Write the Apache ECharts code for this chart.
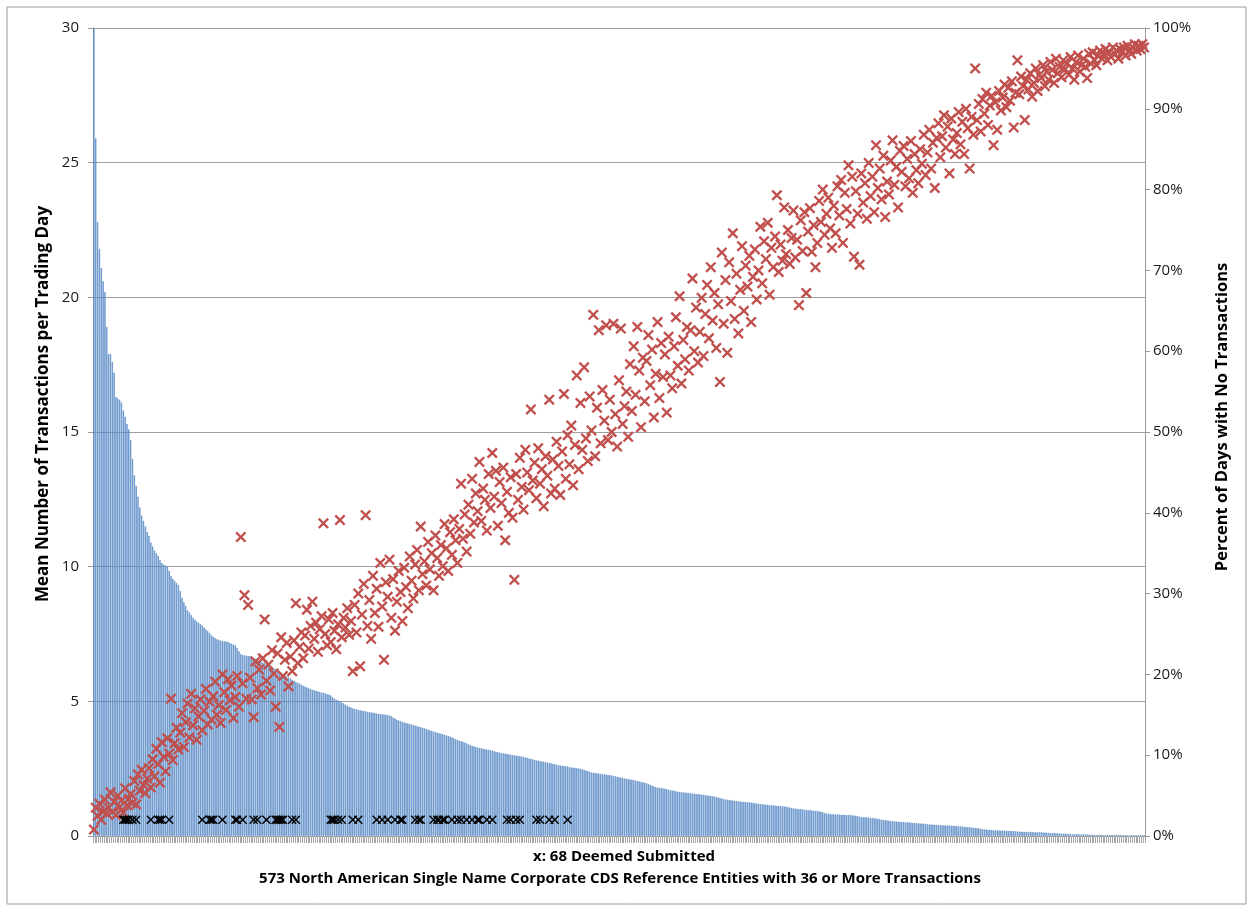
<!DOCTYPE html>
<html>
<head>
<meta charset="utf-8">
<title>CDS reference entities</title>
<script src="https://cdn.jsdelivr.net/npm/echarts@6/dist/echarts.min.js"></script>
<style>
  html, body { margin: 0; padding: 0; background: #fff; }
  #main { width: 1250px; height: 907px; }
</style>
</head>
<body>
<div id="main"></div>
<script>
// mean number of transactions per trading day, one bar per reference entity (sorted)
var meanTrades = [
  30, 25.9, 22.8, 21.8, 21.1, 20.6, 20.2, 18.9, 17.9, 17.9,
  17.6, 17.2, 16.3, 16.25, 16.2, 16.1, 15.8, 15.57, 15.3, 15.1,
  14.7, 14.0, 13.4, 13.0, 12.6, 12.2, 11.9, 11.7, 11.5, 11.3,
  11.15, 10.9, 10.75, 10.6, 10.5, 10.4, 10.25, 10.13, 10.08, 10.04,
  10.0, 9.85, 9.65, 9.55, 9.47, 9.4, 9.32, 9.1, 8.85, 8.68,
  8.55, 8.38, 8.3, 8.2, 8.1, 8.03, 7.97, 7.92, 7.87, 7.82,
  7.74, 7.67, 7.61, 7.53, 7.46, 7.4, 7.35, 7.31, 7.28, 7.26,
  7.24, 7.23, 7.22, 7.21, 7.18, 7.14, 7.11, 7.08, 6.98, 6.86,
  6.76, 6.72, 6.71, 6.7, 6.69, 6.68, 6.66, 6.62, 6.58, 6.54,
  6.5, 6.47, 6.44, 6.42, 6.38, 6.34, 6.3, 6.27, 6.23, 6.2,
  6.17, 6.12, 6.06, 6.0, 5.96, 5.93, 5.89, 5.85, 5.8, 5.76,
  5.72, 5.69, 5.66, 5.62, 5.58, 5.55, 5.52, 5.49, 5.46, 5.43,
  5.41, 5.39, 5.37, 5.35, 5.33, 5.32, 5.29, 5.27, 5.25, 5.22,
  5.15, 5.1, 5.06, 5.03, 5.0, 4.96, 4.92, 4.88, 4.84, 4.8,
  4.77, 4.74, 4.72, 4.71, 4.69, 4.67, 4.65, 4.64, 4.63, 4.61,
  4.6, 4.59, 4.58, 4.56, 4.55, 4.54, 4.53, 4.52, 4.51, 4.5,
  4.49, 4.48, 4.45, 4.4, 4.36, 4.32, 4.29, 4.27, 4.24, 4.22,
  4.2, 4.18, 4.16, 4.14, 4.12, 4.1, 4.08, 4.06, 4.04, 4.02,
  4.0, 3.97, 3.95, 3.93, 3.9, 3.88, 3.86, 3.84, 3.82, 3.8,
  3.78, 3.76, 3.74, 3.72, 3.69, 3.66, 3.63, 3.6, 3.57, 3.54,
  3.52, 3.5, 3.47, 3.44, 3.41, 3.38, 3.35, 3.33, 3.31, 3.29,
  3.27, 3.26, 3.24, 3.23, 3.21, 3.2, 3.19, 3.17, 3.15, 3.13,
  3.11, 3.1, 3.08, 3.07, 3.06, 3.05, 3.03, 3.02, 3.01, 3.0,
  2.99, 2.97, 2.96, 2.95, 2.94, 2.92, 2.9, 2.88, 2.86, 2.85,
  2.83, 2.81, 2.8, 2.78, 2.77, 2.76, 2.74, 2.73, 2.71, 2.7,
  2.68, 2.67, 2.65, 2.63, 2.62, 2.61, 2.6, 2.59, 2.58, 2.56,
  2.55, 2.54, 2.53, 2.52, 2.51, 2.5, 2.48, 2.45, 2.43, 2.41,
  2.39, 2.36, 2.35, 2.34, 2.33, 2.32, 2.31, 2.3, 2.29, 2.28,
  2.27, 2.26, 2.25, 2.23, 2.22, 2.2, 2.19, 2.17, 2.16, 2.14,
  2.13, 2.12, 2.1, 2.09, 2.08, 2.06, 2.05, 2.03, 2.01, 2.0,
  1.98, 1.96, 1.93, 1.9, 1.87, 1.84, 1.82, 1.8, 1.79, 1.78,
  1.77, 1.76, 1.74, 1.72, 1.71, 1.69, 1.68, 1.66, 1.65, 1.64,
  1.63, 1.62, 1.61, 1.61, 1.6, 1.59, 1.58, 1.57, 1.56, 1.56,
  1.55, 1.54, 1.53, 1.52, 1.51, 1.5, 1.49, 1.48, 1.47, 1.45,
  1.43, 1.41, 1.39, 1.37, 1.36, 1.35, 1.34, 1.33, 1.32, 1.31,
  1.3, 1.29, 1.28, 1.27, 1.27, 1.26, 1.26, 1.25, 1.24, 1.23,
  1.22, 1.21, 1.2, 1.19, 1.18, 1.17, 1.17, 1.16, 1.15, 1.14,
  1.14, 1.13, 1.12, 1.12, 1.11, 1.11, 1.1, 1.09, 1.07, 1.06,
  1.04, 1.03, 1.02, 1.01, 1.0, 1.0, 0.99, 0.98, 0.97, 0.96,
  0.96, 0.95, 0.94, 0.93, 0.93, 0.92, 0.9, 0.88, 0.86, 0.84,
  0.83, 0.82, 0.81, 0.81, 0.8, 0.8, 0.8, 0.79, 0.79, 0.79,
  0.78, 0.78, 0.78, 0.77, 0.76, 0.75, 0.74, 0.72, 0.71, 0.7,
  0.7, 0.69, 0.69, 0.68, 0.67, 0.66, 0.65, 0.64, 0.62, 0.61,
  0.6, 0.59, 0.58, 0.57, 0.56, 0.55, 0.55, 0.54, 0.53, 0.53,
  0.52, 0.52, 0.51, 0.51, 0.5, 0.5, 0.49, 0.48, 0.48, 0.47,
  0.47, 0.46, 0.46, 0.45, 0.44, 0.43, 0.43, 0.42, 0.42, 0.41,
  0.41, 0.4, 0.4, 0.4, 0.39, 0.39, 0.39, 0.38, 0.38, 0.38,
  0.37, 0.36, 0.36, 0.35, 0.34, 0.34, 0.33, 0.33, 0.32, 0.31,
  0.3, 0.29, 0.28, 0.27, 0.26, 0.25, 0.24, 0.23, 0.23, 0.22,
  0.22, 0.21, 0.21, 0.21, 0.2, 0.2, 0.2, 0.2, 0.19, 0.19,
  0.19, 0.18, 0.18, 0.17, 0.17, 0.16, 0.16, 0.16, 0.15, 0.15,
  0.15, 0.15, 0.14, 0.14, 0.14, 0.14, 0.14, 0.13, 0.13, 0.12,
  0.12, 0.11, 0.11, 0.11, 0.1, 0.1, 0.1, 0.09, 0.09, 0.09,
  0.08, 0.08, 0.08, 0.07, 0.07, 0.07, 0.07, 0.06, 0.06, 0.06,
  0.06, 0.06, 0.05, 0.05, 0.05, 0.05, 0.04, 0.04, 0.04, 0.04,
  0.04, 0.04, 0.04, 0.04, 0.04, 0.04, 0.04, 0.04, 0.04, 0.04,
  0.03, 0.03, 0.03, 0.03, 0.03, 0.03, 0.03, 0.03, 0.03, 0.03,
  0.03, 0.03, 0.03
];

// percent of days with no transactions, same entity order
var pctNoTrade = [
  0.8, 3.5, 2.5, 4.0, 2.0, 3.0, 4.5, 2.8, 3.5, 5.4,
  3.0, 4.2, 2.6, 5.0, 3.6, 4.4, 2.9, 5.9, 3.8, 4.6,
  5.2, 4.1, 6.8, 3.9, 7.6, 5.6, 8.2, 6.3, 5.3, 7.1,
  8.4, 6.0, 9.5, 7.4, 10.8, 8.9, 6.6, 11.6, 9.8, 8.0,
  12.1, 10.2, 17.0, 9.4, 11.5, 13.4, 10.7, 12.8, 15.2, 11.0,
  14.1, 16.4, 12.2, 17.6, 13.7, 15.8, 11.9, 14.8, 16.9, 13.1,
  15.5, 18.2, 13.8, 16.6, 14.4, 17.3, 19.1, 15.0, 16.2, 14.0,
  20.0, 17.8, 15.6, 19.4, 16.8, 18.6, 14.6, 17.2, 19.8, 16.0,
  37.0, 18.9, 29.8, 17.0, 28.6, 19.6, 16.9, 14.7, 21.6, 18.3,
  20.6, 17.5, 22.0, 26.8, 19.2, 21.2, 18.0, 23.0, 20.1, 16.0,
  22.6, 13.5, 24.6, 19.8, 21.8, 23.9, 18.5, 22.2, 20.4, 24.2,
  28.8, 21.4, 23.4, 25.2, 22.0, 24.8, 28.0, 23.2, 26.0, 29.0,
  24.4, 26.4, 22.8, 25.6, 27.2, 38.7, 25.0, 23.6, 26.8, 24.0,
  27.6, 25.4, 23.1, 26.2, 39.1, 24.6, 27.0, 25.8, 28.2, 24.9,
  26.6, 20.4, 28.6, 25.2, 30.0, 21.0, 27.4, 31.2, 39.7, 26.0,
  29.2, 24.4, 32.2, 27.6, 30.6, 25.9, 33.8, 28.4, 21.8, 31.4,
  29.6, 34.2, 27.0, 31.8, 25.4, 29.0, 32.8, 30.2, 26.6, 33.2,
  30.8, 28.2, 34.6, 31.6, 29.4, 33.6, 35.4, 30.4, 38.3, 32.4,
  34.0, 31.0, 36.4, 33.0, 35.0, 30.4, 37.2, 34.4, 32.2, 36.0,
  33.4, 38.6, 35.6, 32.8, 37.6, 34.8, 39.2, 36.6, 33.8, 38.0,
  43.6, 36.8, 39.8, 35.2, 41.0, 37.4, 44.2, 38.8, 42.4, 40.2,
  46.3, 39.0, 43.0, 41.6, 37.8, 44.8, 40.6, 47.4, 42.0, 45.2,
  38.4, 43.8, 41.2, 45.6, 36.6, 42.6, 40.0, 44.4, 39.4, 31.7,
  44.8, 41.6, 46.8, 43.2, 40.4, 47.8, 45.0, 42.8, 52.8, 44.0,
  46.2, 41.8, 48.0, 43.6, 45.4, 40.8, 47.0, 44.6, 54.0, 42.4,
  46.6, 43.0, 48.8, 45.8, 42.2, 47.6, 54.7, 44.2, 49.6, 46.0,
  50.8, 43.4, 48.4, 57.0, 45.4, 53.6, 47.8, 58.0, 49.2, 46.4,
  54.4, 50.2, 64.5, 47.0, 53.0, 62.6, 48.6, 55.2, 51.4, 63.2,
  49.0, 54.0, 50.0, 63.4, 52.2, 48.2, 56.4, 62.8, 51.0, 53.2,
  55.0, 49.4, 58.4, 52.6, 60.6, 54.6, 63.0, 57.6, 50.6, 59.2,
  53.8, 58.8, 62.0, 55.8, 60.2, 51.8, 57.2, 63.6, 54.2, 61.0,
  56.8, 59.6, 52.4, 61.8, 57.0, 55.4, 60.6, 64.2, 58.2, 66.8,
  56.0, 61.4, 59.0, 63.0, 57.6, 62.6, 69.0, 60.0, 65.4, 58.6,
  62.4, 66.6, 59.4, 64.6, 68.2, 61.6, 70.4, 63.8, 67.2, 60.4,
  65.8, 56.2, 72.2, 63.4, 68.8, 59.8, 71.0, 66.2, 74.6, 64.0,
  69.6, 62.2, 67.6, 73.0, 65.0, 70.6, 68.0, 71.8, 63.6, 69.2,
  72.6, 66.4, 70.0, 75.4, 68.4, 73.6, 71.4, 75.9, 67.0, 72.8,
  70.4, 74.2, 79.3, 69.8, 73.2, 71.2, 77.8, 72.0, 75.0, 70.8,
  74.0, 77.4, 71.6, 73.8, 65.7, 76.2, 72.4, 77.2, 67.2, 74.8,
  77.7, 72.3, 75.6, 70.4, 73.4, 78.6, 76.0, 80.0, 74.4, 77.0,
  79.0, 75.2, 72.8, 78.0, 74.6, 80.4, 76.8, 81.2, 73.4, 79.6,
  77.6, 83.0, 75.8, 81.6, 71.7, 79.8, 77.0, 70.7, 82.0, 78.4,
  80.8, 76.4, 83.3, 79.2, 81.6, 77.2, 85.5, 80.2, 82.6, 78.8,
  84.2, 76.6, 81.0, 79.4, 83.6, 86.1, 80.6, 82.8, 77.8, 84.8,
  82.2, 85.4, 80.4, 83.8, 81.4, 86.0, 79.6, 84.4, 82.4, 80.8,
  85.0, 83.2, 86.8, 81.8, 84.6, 87.4, 82.6, 85.8, 80.2, 86.4,
  88.2, 84.0, 86.6, 89.2, 85.2, 87.8, 82.0, 88.8, 86.2, 84.4,
  87.0, 89.6, 85.6, 88.4, 84.4, 90.0, 87.6, 82.6, 89.0, 86.8,
  95.0, 88.6, 90.6, 87.2, 91.2, 89.4, 92.0, 88.0, 90.4, 91.6,
  85.5, 90.8, 87.4, 92.2, 89.8, 91.4, 93.0, 90.2, 92.6, 91.0,
  93.4, 87.7, 92.0, 96.0, 91.8, 94.0, 92.8, 88.6, 93.6, 92.4,
  94.4, 91.5, 93.2, 95.0, 92.2, 94.2, 93.8, 95.4, 92.8, 94.6,
  93.6, 95.8, 94.8, 93.2, 96.2, 94.4, 95.2, 93.9, 96.0, 94.9,
  95.6, 94.2, 96.4, 95.0, 93.6, 95.8, 96.6, 94.6, 95.4, 96.2,
  95.2, 93.8, 96.8, 95.6, 97.0, 96.0, 95.4, 96.6, 97.2, 96.2,
  96.8, 97.4, 96.0, 97.0, 96.4, 97.6, 96.8, 97.2, 96.2, 97.4,
  97.0, 97.6, 96.6, 97.8, 97.2, 96.8, 97.6, 98.0, 97.2, 97.8,
  97.4, 98.0, 97.6
];

// positions (entity index) of the 68 "deemed submitted" entities
var deemedIdx = [
  16, 17, 18, 19, 21, 23,
  31, 35, 36, 37, 41,
  59, 63, 64, 65, 70,
  77, 78, 81,
  87, 89, 94,
  99, 100, 101, 102, 103,
  108, 110,
  129, 130, 131, 133, 135,
  141, 144,
  154, 157, 160, 164, 167, 168,
  175, 177, 178,
  185, 187, 188, 190, 191, 195, 198, 200, 203, 206, 209, 210, 214, 217,
  225, 227, 230, 232,
  241, 243, 248, 251, 258
];
var deemedLevel = 0.6;   // height on the left axis where the markers sit

var leftTicks = [0, 30, 5];      // min, max, step
var rightTicks = [0, 100, 10];

var categories = [];
for (var i = 0; i < meanTrades.length; i++) {
    categories.push(String(i + 1));
}

var deemedData = [];
deemedIdx.forEach(function (idx) {
    deemedData.push([idx, deemedLevel]);
});

// x-shaped marker drawn as a filled outline
var crossThick = 'path://M0,1.5 L1.5,0 L5,3.5 L8.5,0 L10,1.5 L6.5,5 L10,8.5 L8.5,10 L5,6.5 L1.5,10 L0,8.5 L3.5,5 Z';
var crossThin = 'path://M0,1.1 L1.1,0 L5,3.9 L8.9,0 L10,1.1 L6.1,5 L10,8.9 L8.9,10 L5,6.1 L1.1,10 L0,8.9 L3.9,5 Z';

var fontFam = '"Open Sans", "DejaVu Sans", sans-serif';

var myChart = echarts.init(document.getElementById('main'));

var option = {
    backgroundColor: '#fff',
    animation: false,
    textStyle: { fontFamily: fontFam },
    grid: { left: 93, right: 105, top: 28, bottom: 71 },
    xAxis: {
        type: 'category',
        data: categories,
        axisLine: { lineStyle: { color: '#9a9a9a', width: 1 } },
        axisTick: { show: true, interval: 0, length: 7, lineStyle: { color: '#a8a8a8' } },
        axisLabel: { show: false },
        splitLine: { show: false }
    },
    yAxis: [
        {
            type: 'value',
            min: leftTicks[0], max: leftTicks[1], interval: leftTicks[2],
            position: 'left',
            axisLine: { show: true, lineStyle: { color: '#9a9a9a' } },
            axisTick: { show: true, length: 5, lineStyle: { color: '#9a9a9a' } },
            axisLabel: { fontFamily: fontFam, fontSize: 15, color: '#1a1a1a', margin: 14 },
            splitLine: { show: true, lineStyle: { color: '#a0a0a0', width: 1 } }
        },
        {
            type: 'value',
            min: rightTicks[0], max: rightTicks[1], interval: rightTicks[2],
            position: 'right',
            axisLine: { show: true, lineStyle: { color: '#9a9a9a' } },
            axisTick: { show: true, length: 5, lineStyle: { color: '#9a9a9a' } },
            axisLabel: { fontFamily: fontFam, fontSize: 15, color: '#1a1a1a', margin: 8, formatter: '{value}%' },
            splitLine: { show: false }
        }
    ],
    graphic: [
        {
            type: 'rect',
            shape: { x: 7, y: 7, width: 1239, height: 897 },
            style: { fill: 'none', stroke: '#9a9a9a', lineWidth: 1 },
            silent: true
        },
        {
            type: 'text',
            x: 43, y: 404,
            rotation: Math.PI / 2,
            style: {
                text: 'Mean Number of Transactions per Trading Day',
                font: 'bold 17px ' + fontFam,
                fill: '#000',
                textAlign: 'center',
                textVerticalAlign: 'middle'
            }
        },
        {
            type: 'text',
            x: 1222, y: 417,
            rotation: Math.PI / 2,
            style: {
                text: 'Percent of Days with No Transactions',
                font: 'bold 16.5px ' + fontFam,
                fill: '#000',
                textAlign: 'center',
                textVerticalAlign: 'middle'
            }
        },
        {
            type: 'text',
            x: 624, y: 857,
            style: {
                text: 'x: 68 Deemed Submitted',
                font: 'bold 15px ' + fontFam,
                fill: '#000',
                textAlign: 'center',
                textVerticalAlign: 'middle'
            }
        },
        {
            type: 'text',
            x: 620, y: 879,
            style: {
                text: '573 North American Single Name Corporate CDS Reference Entities with 36 or More Transactions',
                font: 'bold 15px ' + fontFam,
                fill: '#000',
                textAlign: 'center',
                textVerticalAlign: 'middle'
            }
        }
    ],
    series: [
        {
            name: 'Mean Number of Transactions',
            type: 'bar',
            yAxisIndex: 0,
            data: meanTrades,
            barCategoryGap: '34%',
            itemStyle: { color: '#A3C0E6', borderColor: '#4A7FC0', borderWidth: 0.6 },
            z: 1
        },
        {
            name: 'Percent of Days with No Transactions',
            type: 'scatter',
            yAxisIndex: 1,
            data: pctNoTrade,
            symbol: crossThick,
            symbolSize: 11,
            itemStyle: { color: '#C0504D', opacity: 1 },
            z: 3
        },
        {
            name: 'Deemed Submitted',
            type: 'scatter',
            yAxisIndex: 0,
            data: deemedData,
            symbol: crossThin,
            symbolSize: 9,
            itemStyle: { color: '#000', opacity: 1 },
            z: 4
        }
    ]
};

myChart.setOption(option);
</script>
</body>
</html>
